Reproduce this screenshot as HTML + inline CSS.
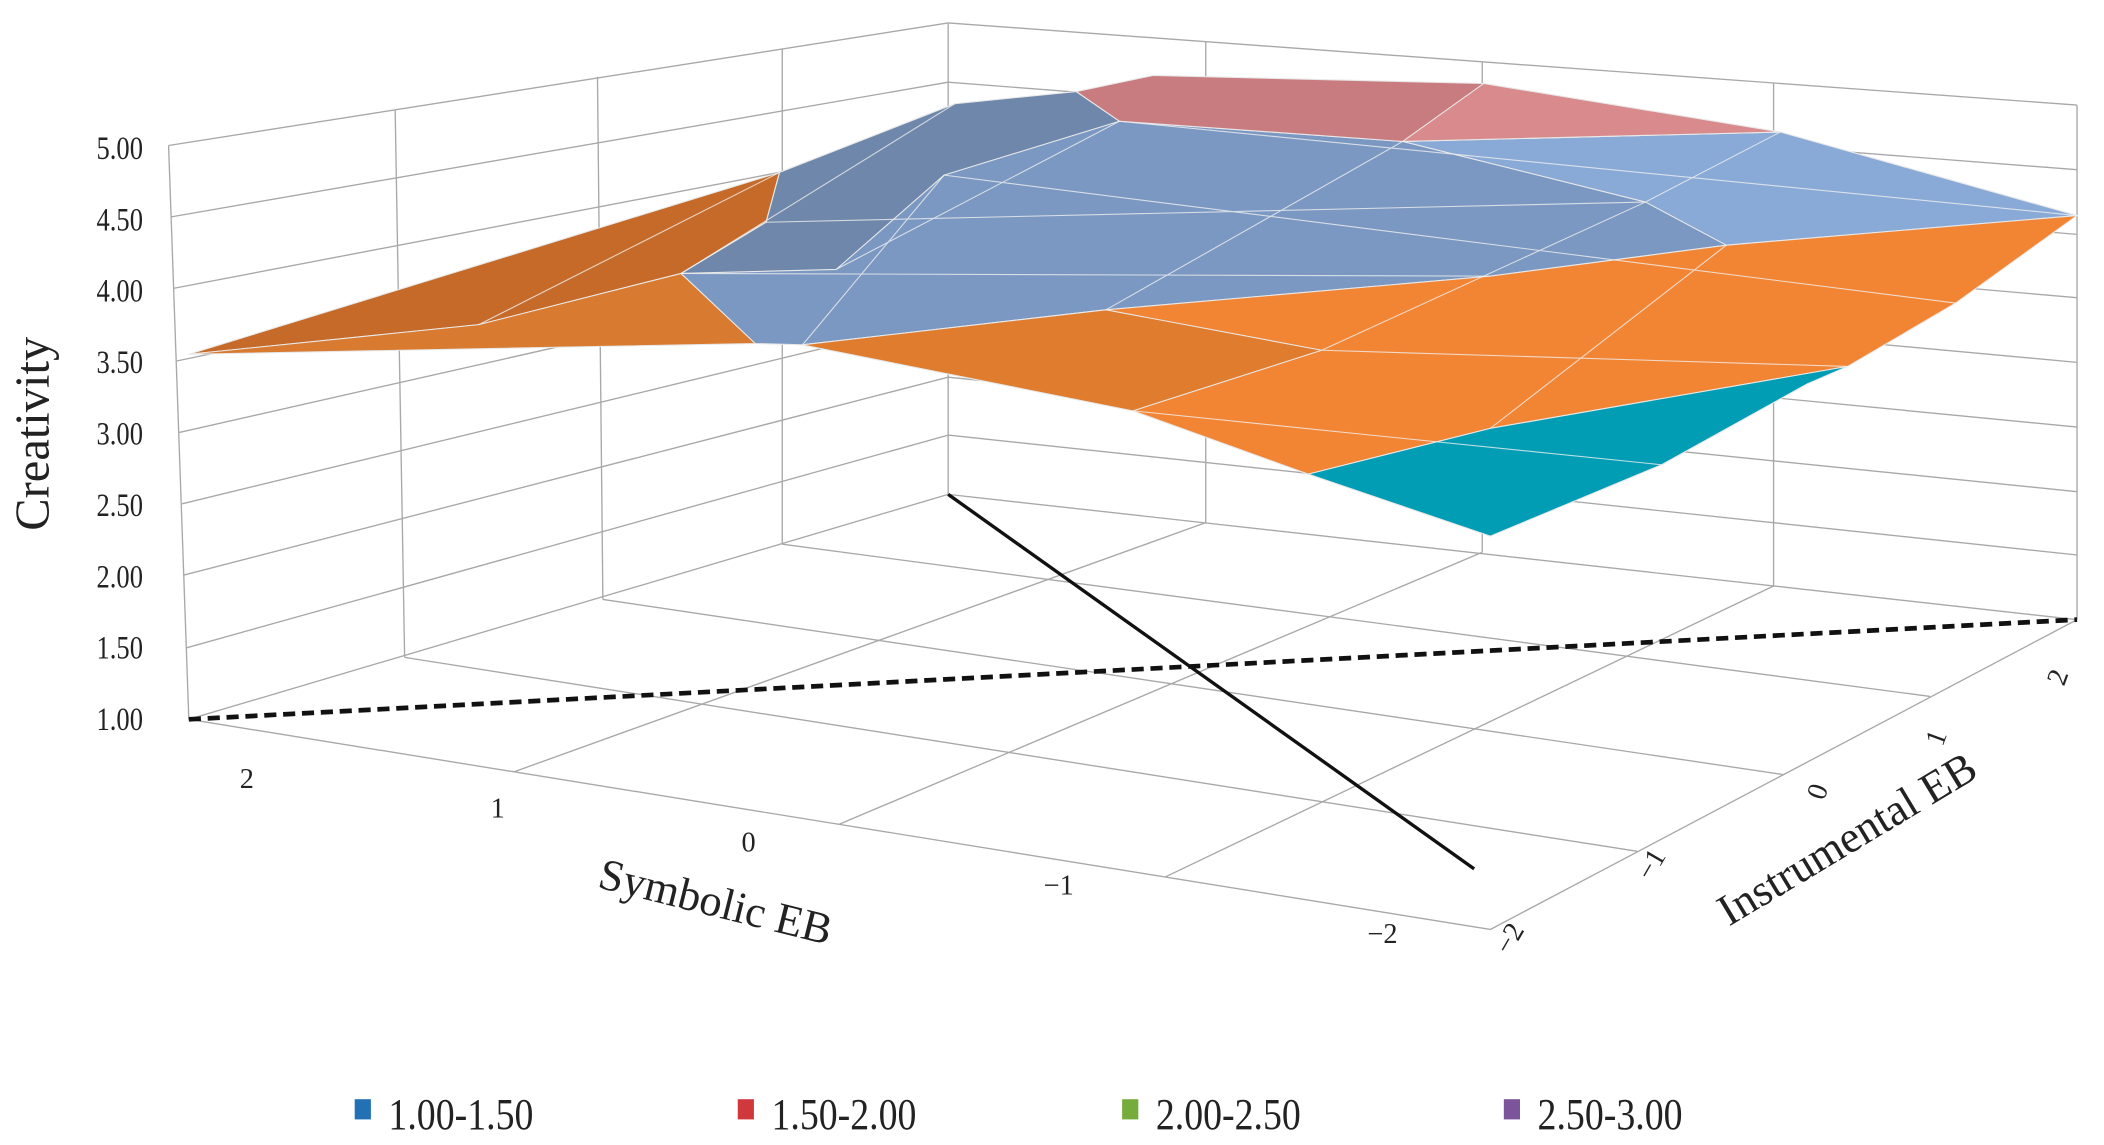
<!DOCTYPE html>
<html><head><meta charset="utf-8"><style>html,body{margin:0;padding:0;background:#fff}svg{display:block}</style></head>
<body>
<svg width="2104" height="1145" viewBox="0 0 1560 850" preserveAspectRatio="none" xmlns="http://www.w3.org/2000/svg" font-family="Liberation Serif, serif">
<g stroke="#a8a8a8" stroke-width="1" fill="none">
<line x1="125" y1="108" x2="703" y2="17"/>
<line x1="127" y1="161" x2="703" y2="61"/>
<line x1="129" y1="214" x2="703" y2="104"/>
<line x1="131" y1="268" x2="703" y2="148"/>
<line x1="133" y1="321" x2="703" y2="192"/>
<line x1="135" y1="374" x2="703" y2="236"/>
<line x1="136" y1="427" x2="703" y2="280"/>
<line x1="138" y1="481" x2="703" y2="323"/>
<line x1="140" y1="534" x2="703" y2="367"/>
<line x1="703" y1="17" x2="1540" y2="78"/>
<line x1="703" y1="61" x2="1540" y2="126"/>
<line x1="703" y1="104" x2="1540" y2="174"/>
<line x1="703" y1="148" x2="1540" y2="221"/>
<line x1="703" y1="192" x2="1540" y2="269"/>
<line x1="703" y1="236" x2="1540" y2="317"/>
<line x1="703" y1="280" x2="1540" y2="365"/>
<line x1="703" y1="323" x2="1540" y2="412"/>
<line x1="703" y1="367" x2="1540" y2="460"/>
<line x1="125" y1="108" x2="140" y2="534"/>
<line x1="293" y1="82" x2="300" y2="488"/>
<line x1="443" y1="57" x2="447" y2="445"/>
<line x1="580" y1="36" x2="580" y2="404"/>
<line x1="703" y1="17" x2="703" y2="367"/>
<line x1="894" y1="31" x2="894" y2="388"/>
<line x1="1099" y1="46" x2="1099" y2="410"/>
<line x1="1315" y1="62" x2="1315" y2="435"/>
<line x1="1540" y1="78" x2="1540" y2="460"/>
<line x1="140" y1="534" x2="1105" y2="690"/>
<line x1="1105" y1="690" x2="1540" y2="460"/>
<line x1="300" y1="488" x2="1214" y2="632"/>
<line x1="447" y1="445" x2="1322" y2="575"/>
<line x1="580" y1="404" x2="1431" y2="517"/>
<line x1="381" y1="573" x2="894" y2="388"/>
<line x1="622" y1="612" x2="1099" y2="410"/>
<line x1="864" y1="651" x2="1315" y2="435"/>
</g>
<g stroke="#e8e8e8" stroke-width="0.8">
<polygon points="140,263 578,128 568,165 505,203 355,241" fill="#c66a2a"/>
<polygon points="140,263 355,241 505,203 560,255" fill="#d97a31"/>
<polygon points="578,128 708,77 798,68 830,90 1040,105 1320,98 1540,160 1280,182 1105,205 820,230 595,256 560,255 505,203 568,165" fill="#7b98c2"/>
<polygon points="578,128 708,77 798,68 830,90 700,130 620,200 505,203 568,165" fill="#6f87aa"/>
<polygon points="1040,105 1320,98 1540,160 1280,182 1220,150" fill="#89a9d6"/>
<polygon points="798,68 855,56 1100,62 1320,98 1040,105 830,90" fill="#c97c80"/>
<polygon points="1100,62 1320,98 1040,105" fill="#d98a8c"/>
<polygon points="595,256 820,230 1105,205 1280,182 1540,160 1450,225 1370,272 1105,318 970,352 840,305" fill="#f28534"/>
<polygon points="595,256 820,230 980,260 840,305" fill="#e07c2d"/>
<polygon points="970,352 1105,318 1370,272 1340,285 1232,345 1105,398" fill="#009db5"/>
</g>
<g stroke="#f0f0f0" stroke-width="0.8" fill="none" opacity="0.8">
<polyline points="355,241 578,128"/>
<polyline points="505,203 708,77"/>
<polyline points="620,200 830,90"/>
<polyline points="700,130 595,256"/>
<polyline points="820,230 1040,105"/>
<polyline points="980,260 1220,150 1320,98"/>
<polyline points="1105,318 1280,182"/>
<polyline points="505,203 1105,205"/>
<polyline points="568,165 1220,150"/>
<polyline points="700,130 1450,225"/>
<polyline points="840,305 1232,345"/>
<polyline points="980,260 1370,272"/>
<polyline points="830,90 1540,160"/>
</g>
<line x1="140" y1="534" x2="1540" y2="460" stroke="#111" stroke-width="3.5" stroke-dasharray="9,5"/>
<line x1="703" y1="367" x2="1093" y2="645" stroke="#111" stroke-width="2.5"/>
<g font-size="24" fill="#222" text-anchor="end">
<text transform="translate(106,118) scale(0.82,1)">5.00</text>
<text transform="translate(106,171) scale(0.82,1)">4.50</text>
<text transform="translate(106,224) scale(0.82,1)">4.00</text>
<text transform="translate(106,277) scale(0.82,1)">3.50</text>
<text transform="translate(106,330) scale(0.82,1)">3.00</text>
<text transform="translate(106,383) scale(0.82,1)">2.50</text>
<text transform="translate(106,436) scale(0.82,1)">2.00</text>
<text transform="translate(106,489) scale(0.82,1)">1.50</text>
<text transform="translate(106,542) scale(0.82,1)">1.00</text>
</g>
<text transform="translate(36,322) rotate(-90)" font-size="36" text-anchor="middle" fill="#222">Creativity</text>
<g font-size="21" fill="#222" text-anchor="middle">
<text x="183" y="585">2</text><text x="369" y="607">1</text><text x="555" y="632">0</text>
<text x="785" y="664">−1</text><text x="1025" y="700">−2</text>
<text transform="translate(1532,505) rotate(-70)">2</text>
<text transform="translate(1442,550) rotate(-70)">1</text>
<text transform="translate(1354,590) rotate(-70)">0</text>
<text transform="translate(1230,645) rotate(-60)">−1</text>
<text transform="translate(1125,700) rotate(-60)">−2</text>
</g>
<text transform="translate(528,680) rotate(14)" font-size="33" text-anchor="middle" fill="#222">Symbolic EB</text>
<text transform="translate(1375,632) rotate(-31)" font-size="33" text-anchor="middle" fill="#222">Instrumental EB</text>
<g font-size="33" fill="#222">
<rect x="263" y="816" width="12" height="15" fill="#2271b5"/><text transform="translate(288,838) scale(0.85,1)">1.00-1.50</text>
<rect x="547" y="816" width="12" height="15" fill="#d0393b"/><text transform="translate(572,838) scale(0.85,1)">1.50-2.00</text>
<rect x="832" y="816" width="12" height="15" fill="#76ac3c"/><text transform="translate(857,838) scale(0.85,1)">2.00-2.50</text>
<rect x="1115" y="816" width="12" height="15" fill="#7b549c"/><text transform="translate(1140,838) scale(0.85,1)">2.50-3.00</text>
</g>
</svg>
</body></html>
